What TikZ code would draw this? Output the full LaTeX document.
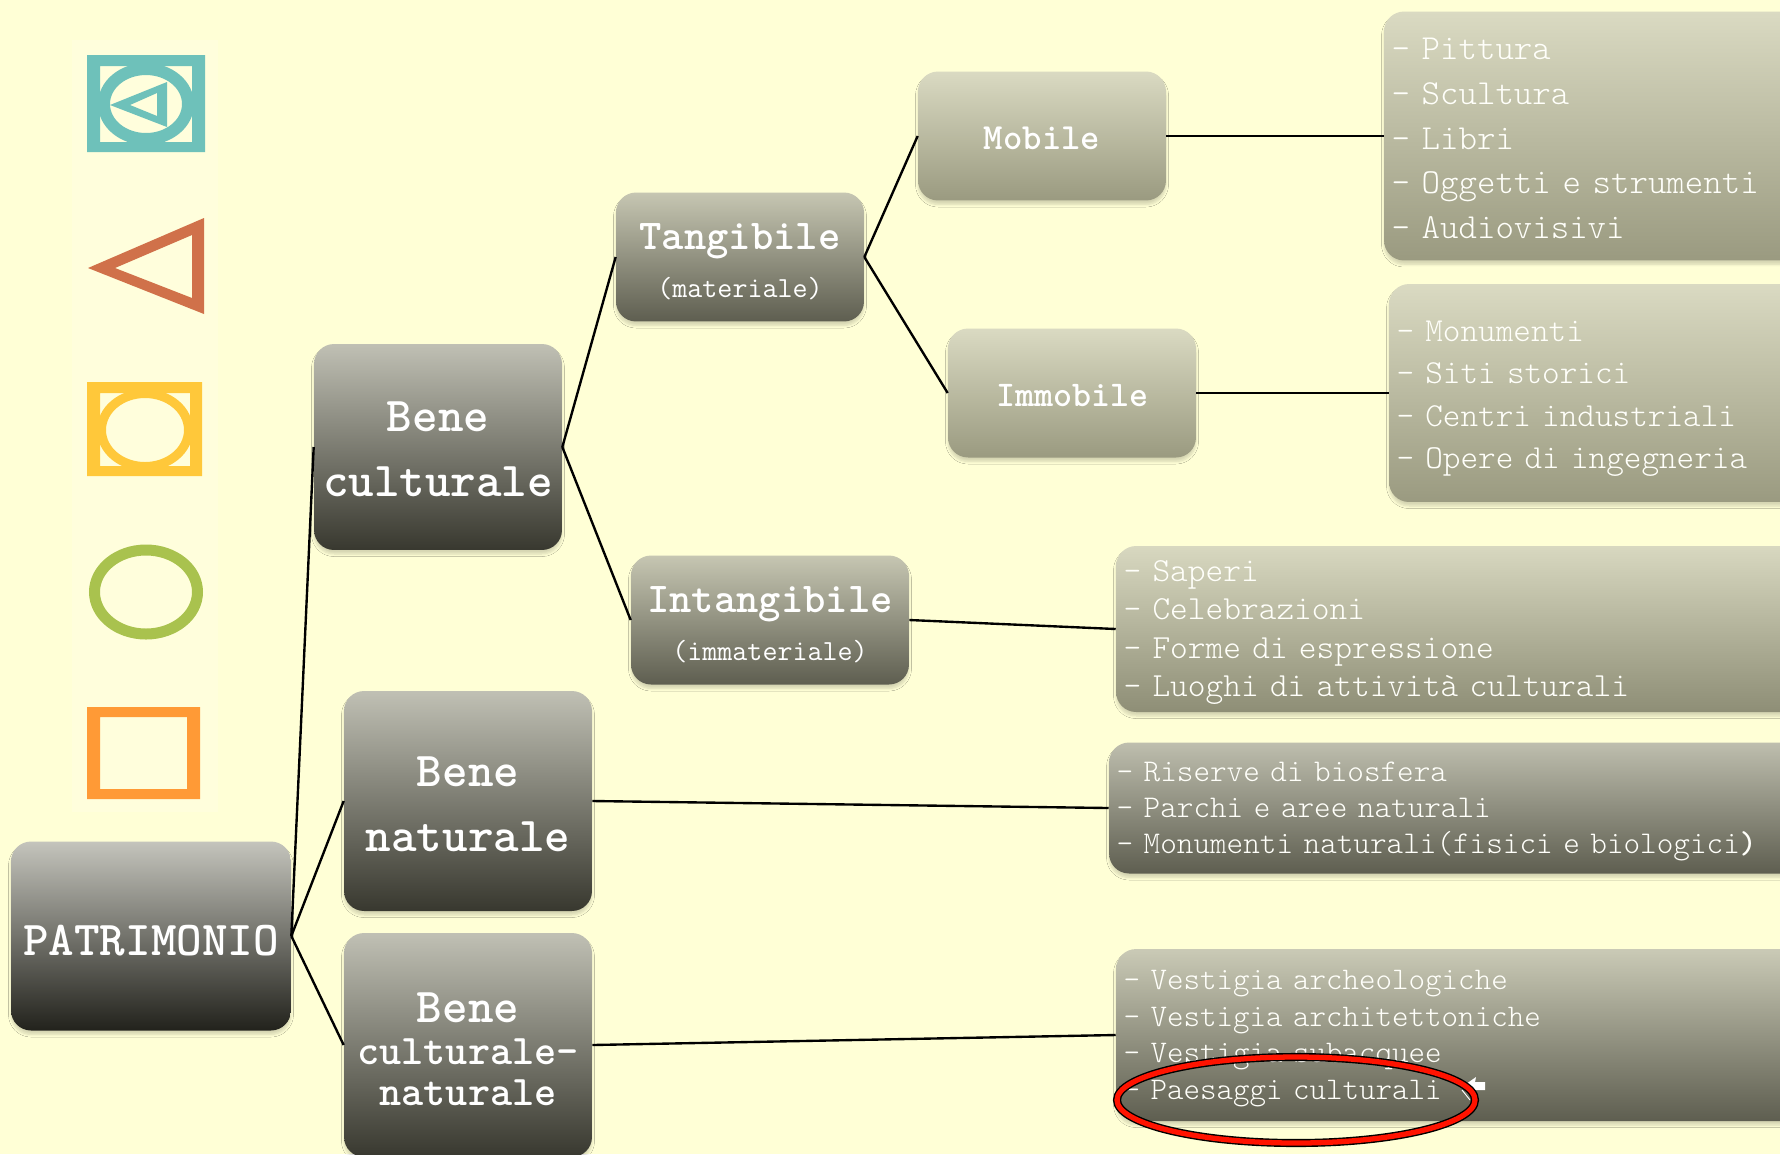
\documentclass[tikz,border=0pt]{standalone}
\renewcommand{\familydefault}{\ttdefault}
\usetikzlibrary{shadows.blur}
\definecolor{paper}{HTML}{FFFFD6}
\definecolor{strip}{HTML}{FFFEDC}
\definecolor{teal}{HTML}{6EC1BA}
\definecolor{rust}{HTML}{D0714A}
\definecolor{sun}{HTML}{FFC83A}
\definecolor{leaf}{HTML}{A9C24E}
\definecolor{tangerine}{HTML}{FF9A36}
\definecolor{roottop}{HTML}{C4C4BC}
\definecolor{rootend}{HTML}{22221C}
\definecolor{darktop}{HTML}{C0C0B4}
\definecolor{darkend}{HTML}{38382F}
\definecolor{midtop}{HTML}{C6C6B2}
\definecolor{midend}{HTML}{5E5E50}
\definecolor{lighttop}{HTML}{DADAC2}
\definecolor{lightend}{HTML}{9A9A80}
\definecolor{sapertop}{HTML}{D8D8C0}
\definecolor{saperend}{HTML}{8E8E76}
\definecolor{risertop}{HTML}{BEBEAE}
\definecolor{vesttop}{HTML}{CACAB6}
\newcommand{\textdrop}[1]{\rule{0pt}{#1}}
\tikzset{
    box/.style={rounded corners=0.4cm, inner sep=0pt, align=center, text=white,
        blur shadow={shadow xshift=0cm, shadow yshift=-0.08cm, shadow blur radius=0.05cm, shadow blur steps=6, shadow opacity=16}},
    rootbox/.style={box, top color=roottop, bottom color=rootend},
    darkbox/.style={box, top color=darktop, bottom color=darkend},
    midbox/.style={box, top color=midtop, bottom color=midend},
    lightbox/.style={box, top color=lighttop, bottom color=lightend},
    listbox/.style={align=left, inner xsep=0.14cm, text=white!88!paper},
    link/.style={black, line width=1.35pt},
}
\begin{document}
\begin{tikzpicture}[x=0.02cm, y=-0.02cm]
        \useasboundingbox[fill=paper] (0,0) rectangle (1780,1154);
        \fill[strip] (72,40) rectangle (218,812);

        % teal icon
        \fill[teal, even odd rule] (87,55) rectangle (205,152) (100,66) rectangle (192,142);
        \fill[teal, even odd rule] (146,104) ellipse [x radius=48, y radius=41] (146,104) ellipse [x radius=36, y radius=29];
        \fill[teal, even odd rule] (110,105) -- (167,82) -- (167,127) -- cycle (130,105) -- (157,93) -- (157,116) -- cycle;
        % triangle
        \fill[rust, even odd rule] (88,268) -- (204,218) -- (204,314) -- cycle (115,268) -- (192,235) -- (192,298) -- cycle;
        % yellow icon
        \fill[sun, even odd rule] (87,382) rectangle (202,476) (100,393) rectangle (190,466);
        \fill[sun, even odd rule] (145,430) ellipse [x radius=48, y radius=41] (145,430) ellipse [x radius=39, y radius=32];
        % circle
        \draw[leaf, line width=0.22cm] (146,592) ellipse [x radius=51.5, y radius=42];
        % square
        \fill[tangerine, even odd rule] (87,707) rectangle (200,799) (100,717) rectangle (187,789);

        % root and first level
        \node[rootbox, minimum width=5.6cm, minimum height=3.78cm, font=\fontsize{27.7}{37}\selectfont\bfseries] (patrimonio) at (151,936) {\textdrop{23pt}PATRIMONIO};
        \node[darkbox, minimum width=4.96cm, minimum height=4.12cm, font=\fontsize{27.7}{37}\selectfont\bfseries] (culturale) at (438,447) {\textdrop{20pt}Bene\\culturale};
        \node[darkbox, minimum width=4.96cm, minimum height=4.4cm, font=\fontsize{27.7}{37}\selectfont\bfseries] (naturale) at (468,801) {\textdrop{21pt}Bene\\naturale};
        \node[darkbox, minimum width=4.96cm, minimum height=4.48cm, font=\fontsize{24}{23.6}\selectfont\bfseries] (misto) at (468,1045) {{\fontsize{27.7}{23.6}\selectfont\textdrop{22pt}Bene}\\culturale-\\naturale};

        % second level
        \node[midbox, minimum width=4.96cm, minimum height=2.58cm, font=\fontsize{16.6}{27}\selectfont] (tangibile) at (740,257) {{\fontsize{24.2}{27}\selectfont\bfseries\textdrop{20pt}Tangibile}\\(materiale)};
        \node[midbox, minimum width=5.56cm, minimum height=2.58cm, font=\fontsize{16.6}{27}\selectfont] (intangibile) at (770,620) {{\fontsize{24.2}{27}\selectfont\bfseries\textdrop{20pt}Intangibile}\\(immateriale)};
        \node[lightbox, minimum width=4.96cm, minimum height=2.58cm, font=\fontsize{21}{24}\selectfont\bfseries] (mobile) at (1042,136) {\textdrop{15pt}Mobile};
        \node[lightbox, minimum width=4.96cm, minimum height=2.58cm, font=\fontsize{20.6}{24}\selectfont\bfseries] (immobile) at (1072,393) {\textdrop{15pt}Immobile};

        % lists
        \node[lightbox, listbox, minimum width=8.4cm, minimum height=4.98cm, text width=8.1cm, font=\fontsize{20}{25.4}\selectfont\fontseries{l}\selectfont] (opere) at (1594,136)
            {\textdrop{15pt}- Pittura\\- Scultura\\- Libri\\- Oggetti e strumenti\\- Audiovisivi};
        \node[lightbox, listbox, minimum width=8.4cm, minimum height=4.36cm, text width=8.1cm, font=\fontsize{19.1}{24.1}\selectfont\fontseries{l}\selectfont] (luoghi) at (1599,393)
            {\textdrop{18pt}- Monumenti\\- Siti storici\\- Centri industriali\\- Opere di ingegneria};
        \node[box, listbox, top color=sapertop, bottom color=saperend, minimum width=14cm, minimum height=3.32cm, text width=13.7cm, font=\fontsize{19.2}{21.9}\selectfont\fontseries{l}\selectfont] (saperi) at (1116+350,629)
            {\textdrop{16pt}- Saperi\\- Celebrazioni\\- Forme di espressione\\- Luoghi di attività culturali};
        \node[box, listbox, top color=risertop, bottom color=midend, minimum width=14cm, minimum height=2.62cm, text width=13.7cm, font=\fontsize{18}{20.7}\selectfont\fontseries{l}\selectfont] (riserve) at (1109+350,808)
            {\textdrop{15pt}- Riserve di biosfera\\- Parchi e aree naturali\\- Monumenti naturali(fisici e biologici{\bfseries)}};
        \node[box, listbox, top color=vesttop, bottom color=midend, minimum width=14cm, minimum height=3.44cm, text width=13.7cm, font=\fontsize{17.9}{20.9}\selectfont\fontseries{l}\selectfont] (vestigia) at (1116+350,1035)
            {\textdrop{15pt}- Vestigia archeologiche\\- Vestigia architettoniche\\- Vestigia subacquee\\- Paesaggi culturali};

        % links
        \draw[link] (patrimonio.east) -- (culturale.west);
        \draw[link] (patrimonio.east) -- (naturale.west);
        \draw[link] (patrimonio.east) -- (misto.west);
        \draw[link] (culturale.east) -- (tangibile.west);
        \draw[link] (culturale.east) -- (intangibile.west);
        \draw[link] (tangibile.east) -- (mobile.west);
        \draw[link] (tangibile.east) -- (immobile.west);
        \draw[link] (mobile.east) -- (opere.west);
        \draw[link] (immobile.east) -- (luoghi.west);
        \draw[link] (intangibile.east) -- (saperi.west);
        \draw[link] (naturale.east) -- (riserve.west);
        \draw[link] (misto.east) -- (vestigia.west);

        % mark on the last list
        \fill[white] (1466,1084) -- (1476,1077) -- (1475,1082) -- (1485,1082) -- (1485,1090) -- (1473,1090) -- cycle;
        \draw[white, line width=0.5pt] (1462,1090) -- (1470,1100);
        \draw[draw=black, double=red!85!orange, double distance=3pt, line width=0.8pt] (1296,1100) ellipse [x radius=179, y radius=43];
    \end{tikzpicture}
\end{document}
